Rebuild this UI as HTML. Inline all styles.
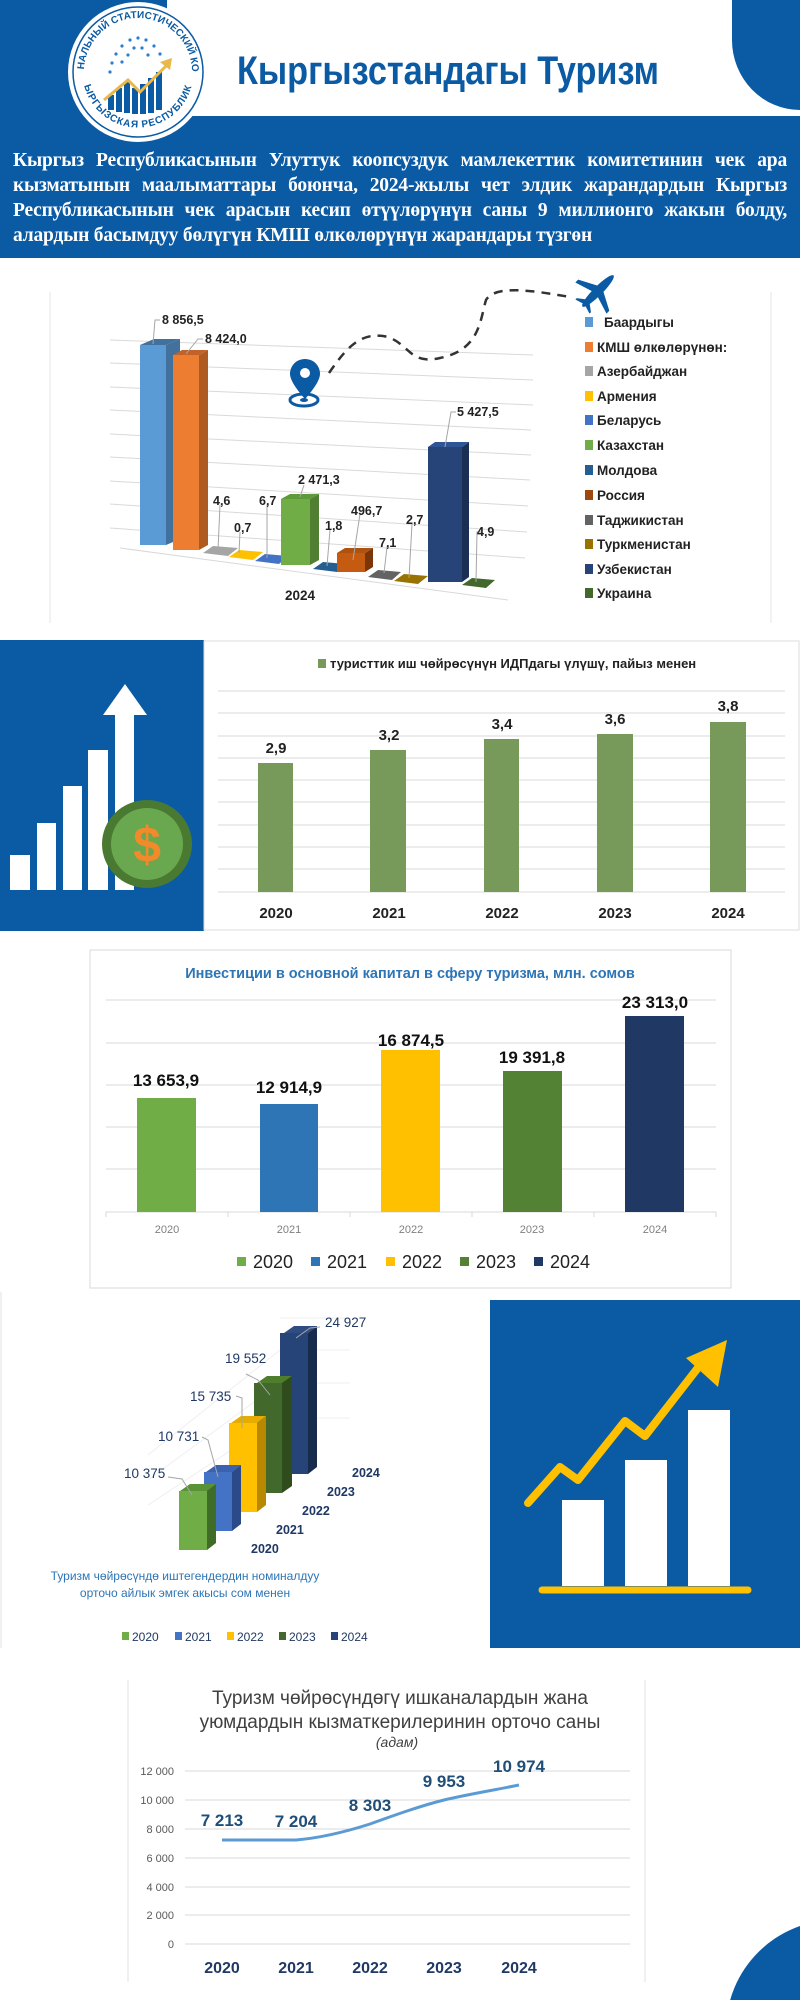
<!DOCTYPE html>
<html><head><meta charset="utf-8"><style>
html,body{margin:0;padding:0;background:#fff;width:800px;height:2000px;overflow:hidden;}
body{position:relative;font-family:"Liberation Sans",sans-serif;}
svg{position:absolute;left:0;top:0;display:block;}
#para{position:absolute;left:13px;top:148px;width:774px;color:#fff;font-family:"Liberation Serif",serif;font-weight:bold;font-size:19.5px;line-height:25px;text-align:justify;text-align-last:left;letter-spacing:-0.2px;}
</style></head><body>
<svg width="800" height="2000" viewBox="0 0 800 2000" font-family="Liberation Sans, sans-serif">
<defs>
<path id="arcTop" d="M 84 72 A 54 54 0 0 1 192 72"/>
<path id="arcBot" d="M 90 82 A 49 49 0 0 0 186 82"/>
<clipPath id="pg"><rect x="0" y="0" width="800" height="2000"/></clipPath>
</defs>
<!-- header -->
<rect x="0" y="0" width="167" height="116" fill="#0a5aa4"/>
<path d="M732 0 H800 V110 A68 70 0 0 1 732 40 Z" fill="#0a5aa4"/>
<rect x="0" y="116" width="800" height="142" fill="#0a5aa4"/>
<circle cx="138" cy="72" r="70" fill="#fff"/>
<circle cx="138" cy="72" r="65" fill="none" stroke="#0a5aa4" stroke-width="1.5"/>
<text font-size="10" font-weight="bold" fill="#0a5aa4"><textPath href="#arcTop" startOffset="50%" text-anchor="middle">НАЦИОНАЛЬНЫЙ СТАТИСТИЧЕСКИЙ КОМИТЕТ</textPath></text>
<text font-size="10" font-weight="bold" fill="#0a5aa4"><textPath href="#arcBot" startOffset="50%" text-anchor="middle" dominant-baseline="hanging">КЫРГЫЗСКАЯ РЕСПУБЛИКА</textPath></text>
<g fill="#2a7fd0">
<circle cx="130" cy="40" r="1.6"/><circle cx="138" cy="38" r="1.6"/><circle cx="146" cy="40" r="1.6"/><circle cx="122" cy="46" r="1.6"/><circle cx="154" cy="46" r="1.6"/><circle cx="116" cy="54" r="1.6"/><circle cx="160" cy="54" r="1.6"/><circle cx="112" cy="63" r="1.6"/><circle cx="164" cy="63" r="1.6"/><circle cx="134" cy="48" r="1.6"/><circle cx="142" cy="48" r="1.6"/><circle cx="128" cy="55" r="1.6"/><circle cx="148" cy="55" r="1.6"/><circle cx="110" cy="72" r="1.6"/><circle cx="122" cy="62" r="1.6"/>
</g>
<g fill="#0a5aa4"><rect x="108" y="95" width="6" height="15"/><rect x="116" y="88" width="6" height="24"/><rect x="124" y="82" width="6" height="31"/><rect x="132" y="88" width="6" height="26"/><rect x="140" y="84" width="6" height="30"/><rect x="148" y="78" width="6" height="35"/><rect x="156" y="72" width="6" height="38"/></g>
<polyline points="104,100 128,80 140,92 168,64" fill="none" stroke="#e8b84a" stroke-width="3"/>
<polygon points="172,58 160,62 170,70" fill="#e8b84a"/>
<text x="448" y="84" font-size="40" font-weight="bold" fill="#0a5aa4" text-anchor="middle" textLength="422" lengthAdjust="spacingAndGlyphs">Кыргызстандагы Туризм</text>

<!-- chart 1 -->
<line x1="50" y1="292" x2="50" y2="623" stroke="#e6e6e6"/>
<line x1="771" y1="292" x2="771" y2="623" stroke="#e6e6e6"/>
<g stroke="#d9d9d9" stroke-width="1">
<line x1="110" y1="340" x2="533" y2="355"/><line x1="110" y1="363" x2="533" y2="380"/><line x1="110" y1="387" x2="533" y2="405"/><line x1="110" y1="410" x2="531" y2="430"/><line x1="110" y1="434" x2="531" y2="455"/><line x1="110" y1="457" x2="530" y2="480"/><line x1="110" y1="481" x2="528" y2="506"/><line x1="110" y1="504" x2="527" y2="532"/><line x1="110" y1="528" x2="525" y2="558"/><line x1="120" y1="548" x2="508" y2="600"/>
</g>
<g>
<polygon points="166,345 180,339 180,539 166,545" fill="#41719c"/><polygon points="140,345 154,339 180,339 166,345" fill="#41719c"/><rect x="140" y="345" width="26" height="200" fill="#5b9bd5"/>
<polygon points="199,355 208,350 208,545 199,550" fill="#ae5a21"/><polygon points="173,355 182,350 208,350 199,355" fill="#c0622a"/><rect x="173" y="355" width="26" height="195" fill="#ed7d31"/>
<polygon points="203,553 213,546 238,548 228,556" fill="#a5a5a5"/>
<polygon points="229,557 239,550 263,552 253,560" fill="#ffc000"/>
<polygon points="255,561 265,554 288,556 279,564" fill="#4472c4"/>
<polygon points="310,499 319,494 319,560 310,565" fill="#507e32"/><polygon points="281,499 290,494 319,494 310,499" fill="#5d9a39"/><rect x="281" y="499" width="29" height="66" fill="#70ad47"/>
<polygon points="313,569 323,562 346,564 337,572" fill="#255e91"/>
<polygon points="365,553 373,548 373,567 365,572" fill="#7a3509"/><polygon points="337,553 345,548 373,548 365,553" fill="#b0520f"/><rect x="337" y="553" width="28" height="19" fill="#c55a11"/>
<polygon points="368,577 378,570 401,572 392,580" fill="#636363"/>
<polygon points="394,581 404,574 428,576 418,584" fill="#997300"/>
<polygon points="462,447 469,442 469,577 462,582" fill="#1a2f53"/><polygon points="428,447 435,442 469,442 462,447" fill="#2f5597"/><rect x="428" y="447" width="34" height="135" fill="#264478"/>
<polygon points="462,585 472,578 495,580 486,588" fill="#43682b"/>
</g>
<g stroke="#a6a6a6" stroke-width="1" fill="none">
<polyline points="153,344 155,320 160,320"/><polyline points="186,354 198,339 203,339"/><polyline points="218,550 220,505"/><polyline points="239,553 240,532"/><polyline points="267,558 267,505"/><polyline points="300,497 304,485"/><polyline points="327,566 330,530"/><polyline points="353,560 360,514"/><polyline points="384,573 387,547"/><polyline points="409,578 412,524"/><polyline points="445,447 451,412 456,412"/><polyline points="476,582 477,532 481,532"/>
</g>
<g font-size="12.5" fill="#222" font-weight="bold">
<text x="162" y="324">8 856,5</text><text x="205" y="343">8 424,0</text>
<text x="213" y="505">4,6</text><text x="234" y="532">0,7</text><text x="259" y="505">6,7</text>
<text x="298" y="484">2 471,3</text><text x="325" y="530">1,8</text><text x="351" y="515">496,7</text>
<text x="379" y="547">7,1</text><text x="406" y="524">2,7</text><text x="457" y="416">5 427,5</text><text x="477" y="536">4,9</text>
<text x="285" y="600" font-size="13.5">2024</text>
</g>
<g font-size="13.5" font-weight="bold" fill="#222">
<rect x="585" y="317" width="8" height="10" fill="#5b9bd5"/><text x="604" y="327">Баардыгы</text>
<rect x="585" y="342" width="8" height="10" fill="#ed7d31"/><text x="597" y="352">КМШ өлкөлөрүнөн:</text>
<rect x="585" y="366" width="8" height="10" fill="#a5a5a5"/><text x="597" y="376">Азербайджан</text>
<rect x="585" y="391" width="8" height="10" fill="#ffc000"/><text x="597" y="401">Армения</text>
<rect x="585" y="415" width="8" height="10" fill="#4472c4"/><text x="597" y="425">Беларусь</text>
<rect x="585" y="440" width="8" height="10" fill="#70ad47"/><text x="597" y="450">Казахстан</text>
<rect x="585" y="465" width="8" height="10" fill="#255e91"/><text x="597" y="475">Молдова</text>
<rect x="585" y="490" width="8" height="10" fill="#9e480e"/><text x="597" y="500">Россия</text>
<rect x="585" y="515" width="8" height="10" fill="#636363"/><text x="597" y="525">Таджикистан</text>
<rect x="585" y="539" width="8" height="10" fill="#997300"/><text x="597" y="549">Туркменистан</text>
<rect x="585" y="564" width="8" height="10" fill="#264478"/><text x="597" y="574">Узбекистан</text>
<rect x="585" y="588" width="8" height="10" fill="#43682b"/><text x="597" y="598">Украина</text>
</g>
<path d="M305 359 c-9 0 -15 7 -15 15 c0 9 15 25 15 25 c0 0 15 -16 15 -25 c0 -8 -6 -15 -15 -15z" fill="#0a5aa4"/>
<circle cx="305" cy="373" r="5" fill="#fff"/>
<ellipse cx="304" cy="400" rx="14" ry="6" fill="none" stroke="#0a5aa4" stroke-width="3"/>
<ellipse cx="304" cy="400" rx="4" ry="2" fill="#0a5aa4"/>
<path d="M329 373 C345 350 360 330 388 337 C410 345 410 365 440 358 C480 350 480 320 486 300 C495 285 530 290 570 297" fill="none" stroke="#333" stroke-width="2.5" stroke-dasharray="9 7"/>
<g transform="translate(598,291) rotate(45)" fill="#0a5aa4">
<ellipse cx="0" cy="0" rx="4.5" ry="22"/>
<polygon points="-3,-4 -22,6 -22,10 -3,4 3,4 22,10 22,6 3,-4"/>
<polygon points="-2,14 -10,20 -10,22 0,19 10,22 10,20 2,14"/>
</g>

<!-- section 3 -->
<rect x="0" y="640" width="204" height="291" fill="#0a5aa4"/>
<rect x="204" y="641" width="595" height="289" fill="none" stroke="#dcdcdc"/>
<g fill="#fff">
<rect x="10" y="855" width="20" height="35"/><rect x="37" y="823" width="19" height="67"/><rect x="63" y="786" width="19" height="104"/><rect x="88" y="750" width="20" height="140"/><rect x="115" y="714" width="19" height="176"/>
<polygon points="103,715 125,684 147,715"/>
</g>
<ellipse cx="147" cy="844" rx="45" ry="44" fill="#4a7a32"/>
<ellipse cx="147" cy="844" rx="36" ry="36" fill="#6aa84f"/>
<text x="147" y="862" font-size="50" fill="#f08a2a" text-anchor="middle" font-weight="bold">$</text>
<g stroke="#d9d9d9"><line x1="218" y1="691" x2="785" y2="691"/><line x1="218" y1="713" x2="785" y2="713"/><line x1="218" y1="736" x2="785" y2="736"/><line x1="218" y1="758" x2="785" y2="758"/><line x1="218" y1="780" x2="785" y2="780"/><line x1="218" y1="802" x2="785" y2="802"/><line x1="218" y1="825" x2="785" y2="825"/><line x1="218" y1="847" x2="785" y2="847"/><line x1="218" y1="869" x2="785" y2="869"/><line x1="218" y1="892" x2="785" y2="892"/></g>
<g fill="#77995a"><rect x="258" y="763" width="35" height="129"/><rect x="370" y="750" width="36" height="142"/><rect x="484" y="739" width="35" height="153"/><rect x="597" y="734" width="36" height="158"/><rect x="710" y="722" width="36" height="170"/></g>
<rect x="318" y="659" width="8" height="9" fill="#77995a"/>
<text x="330" y="668" font-size="13" font-weight="bold" fill="#222">туристтик иш чөйрөсүнүн ИДПдагы  үлүшү, пайыз менен</text>
<g font-size="15" font-weight="bold" fill="#222" text-anchor="middle">
<text x="276" y="753">2,9</text><text x="389" y="740">3,2</text><text x="502" y="729">3,4</text><text x="615" y="724">3,6</text><text x="728" y="711">3,8</text>
<text x="276" y="918">2020</text><text x="389" y="918">2021</text><text x="502" y="918">2022</text><text x="615" y="918">2023</text><text x="728" y="918">2024</text>
</g>

<!-- section 4 -->
<rect x="90" y="950" width="641" height="338" fill="none" stroke="#d9d9d9"/>
<text x="410" y="978" font-size="14.5" font-weight="bold" fill="#2e75b6" text-anchor="middle">Инвестиции в основной капитал в сферу туризма, млн. сомов</text>
<g stroke="#d9d9d9"><line x1="106" y1="1000" x2="716" y2="1000"/><line x1="106" y1="1043" x2="716" y2="1043"/><line x1="106" y1="1085" x2="716" y2="1085"/><line x1="106" y1="1127" x2="716" y2="1127"/><line x1="106" y1="1169" x2="716" y2="1169"/><line x1="106" y1="1212" x2="716" y2="1212"/>
<line x1="106" y1="1212" x2="106" y2="1217"/><line x1="228" y1="1212" x2="228" y2="1217"/><line x1="350" y1="1212" x2="350" y2="1217"/><line x1="472" y1="1212" x2="472" y2="1217"/><line x1="594" y1="1212" x2="594" y2="1217"/><line x1="716" y1="1212" x2="716" y2="1217"/></g>
<rect x="137" y="1098" width="59" height="114" fill="#70ad47"/>
<rect x="260" y="1104" width="58" height="108" fill="#2e75b6"/>
<rect x="381" y="1050" width="59" height="162" fill="#ffc000"/>
<rect x="503" y="1071" width="59" height="141" fill="#548235"/>
<rect x="625" y="1016" width="59" height="196" fill="#203864"/>
<g font-size="17" fill="#111" text-anchor="middle" font-weight="bold">
<text x="166" y="1086">13 653,9</text><text x="289" y="1093">12 914,9</text><text x="411" y="1046">16 874,5</text><text x="532" y="1063">19 391,8</text><text x="655" y="1008">23 313,0</text>
</g>
<g font-size="11" fill="#7f7f7f" text-anchor="middle">
<text x="167" y="1233">2020</text><text x="289" y="1233">2021</text><text x="411" y="1233">2022</text><text x="532" y="1233">2023</text><text x="655" y="1233">2024</text>
</g>
<g font-size="18" fill="#222">
<rect x="237" y="1257" width="9" height="9" fill="#70ad47"/><text x="253" y="1268">2020</text>
<rect x="311" y="1257" width="9" height="9" fill="#2e75b6"/><text x="327" y="1268">2021</text>
<rect x="386" y="1257" width="9" height="9" fill="#ffc000"/><text x="402" y="1268">2022</text>
<rect x="460" y="1257" width="9" height="9" fill="#548235"/><text x="476" y="1268">2023</text>
<rect x="534" y="1257" width="9" height="9" fill="#203864"/><text x="550" y="1268">2024</text>
</g>

<!-- section 5 left 3D -->
<line x1="1" y1="1292" x2="1" y2="1648" stroke="#e0e0e0"/>
<g stroke="#efefef"><line x1="148" y1="1505" x2="280" y2="1418"/><line x1="148" y1="1480" x2="280" y2="1383"/><line x1="148" y1="1455" x2="280" y2="1350"/><line x1="280" y1="1418" x2="350" y2="1418"/><line x1="280" y1="1383" x2="350" y2="1383"/><line x1="280" y1="1350" x2="350" y2="1350"/><line x1="280" y1="1318" x2="350" y2="1318"/></g>
<g>
<polygon points="284,1333 294,1326 317,1326 308,1333" fill="#2f4d82"/><polygon points="308,1333 317,1326 317,1467 308,1474" fill="#172b4d"/><rect x="280" y="1333" width="28" height="141" fill="#264478"/>
<polygon points="257,1383 267,1376 292,1376 282,1383" fill="#4e7d2c"/><polygon points="282,1383 292,1376 292,1486 282,1493" fill="#2f4d1c"/><rect x="254" y="1383" width="28" height="110" fill="#43682b"/>
<polygon points="231,1423 241,1416 266,1416 257,1423" fill="#e6ad00"/><polygon points="257,1423 266,1416 266,1505 257,1512" fill="#b88900"/><rect x="229" y="1423" width="28" height="89" fill="#ffc000"/>
<polygon points="206,1472 216,1465 241,1465 232,1472" fill="#3a62b0"/><polygon points="232,1472 241,1465 241,1524 232,1531" fill="#2a4a8a"/><rect x="204" y="1472" width="28" height="59" fill="#4472c4"/>
<polygon points="180,1491 190,1484 216,1484 207,1491" fill="#5a9238"/><polygon points="207,1491 216,1484 216,1543 207,1550" fill="#3f6c26"/><rect x="179" y="1491" width="28" height="59" fill="#70ad47"/>
</g>
<g stroke="#a6a6a6" fill="none"><polyline points="296,1338 310,1328 320,1327"/><polyline points="270,1395 258,1380 246,1374"/><polyline points="242,1428 242,1398 236,1396"/><polyline points="218,1477 208,1440 202,1437"/><polyline points="192,1495 182,1479 168,1477"/></g>
<g font-size="13.5" fill="#1f3864">
<text x="325" y="1327">24 927</text><text x="225" y="1363">19 552</text><text x="190" y="1401">15 735</text><text x="158" y="1441">10 731</text><text x="124" y="1478">10 375</text>
<g font-weight="bold" font-size="12.5"><text x="352" y="1477">2024</text><text x="327" y="1496">2023</text><text x="302" y="1515">2022</text><text x="276" y="1534">2021</text><text x="251" y="1553">2020</text></g>
</g>
<g font-size="12" fill="#2e75b6" text-anchor="middle"><text x="185" y="1580">Туризм чөйрөсүндө иштегендердин номиналдуу</text><text x="185" y="1597">орточо айлык эмгек акысы сом менен</text></g>
<g font-size="12" fill="#1f3864">
<rect x="122" y="1632" width="7" height="8" fill="#70ad47"/><text x="132" y="1641">2020</text>
<rect x="175" y="1632" width="7" height="8" fill="#4472c4"/><text x="185" y="1641">2021</text>
<rect x="227" y="1632" width="7" height="8" fill="#ffc000"/><text x="237" y="1641">2022</text>
<rect x="279" y="1632" width="7" height="8" fill="#43682b"/><text x="289" y="1641">2023</text>
<rect x="331" y="1632" width="7" height="8" fill="#264478"/><text x="341" y="1641">2024</text>
</g>
<rect x="490" y="1300" width="310" height="348" fill="#0a5aa4"/>
<g fill="#fff"><rect x="562" y="1500" width="42" height="86"/><rect x="625" y="1460" width="42" height="126"/><rect x="688" y="1410" width="42" height="176"/></g>
<line x1="542" y1="1590" x2="748" y2="1590" stroke="#ffc000" stroke-width="7" stroke-linecap="round"/>
<polyline points="528,1503 560,1467 578,1480 625,1421 645,1436 704,1360" fill="none" stroke="#ffc000" stroke-width="8" stroke-linecap="round" stroke-linejoin="round"/>
<polygon points="727,1340 686,1358 718,1387" fill="#ffc000"/>

<!-- line chart -->
<line x1="128" y1="1680" x2="128" y2="1982" stroke="#e0e0e0"/>
<line x1="645" y1="1680" x2="645" y2="1982" stroke="#e0e0e0"/>
<g font-size="19" fill="#404040" text-anchor="middle"><text x="400" y="1704">Туризм  чөйрөсүндөгү ишканалардын жана</text><text x="400" y="1728">уюмдардын  кызматкерилеринин орточо  саны</text><text x="397" y="1747" font-size="14" font-style="italic">(адам)</text></g>
<g stroke="#d9d9d9"><line x1="185" y1="1771" x2="630" y2="1771"/><line x1="185" y1="1800" x2="630" y2="1800"/><line x1="185" y1="1829" x2="630" y2="1829"/><line x1="185" y1="1858" x2="630" y2="1858"/><line x1="185" y1="1887" x2="630" y2="1887"/><line x1="185" y1="1915" x2="630" y2="1915"/><line x1="185" y1="1944" x2="630" y2="1944"/></g>
<g font-size="11" fill="#595959" text-anchor="end"><text x="174" y="1775">12 000</text><text x="174" y="1804">10 000</text><text x="174" y="1833">8 000</text><text x="174" y="1862">6 000</text><text x="174" y="1891">4 000</text><text x="174" y="1919">2 000</text><text x="174" y="1948">0</text></g>
<path d="M222 1840 L296 1840 C320 1838 345 1832 370 1824 C395 1815 420 1806 444 1800 C470 1794 495 1790 519 1785" fill="none" stroke="#5b9bd5" stroke-width="3"/>
<g font-size="17" font-weight="bold" fill="#1f4e79" text-anchor="middle"><text x="222" y="1826">7 213</text><text x="296" y="1827">7 204</text><text x="370" y="1811">8 303</text><text x="444" y="1787">9 953</text><text x="519" y="1772">10 974</text></g>
<g font-size="16" font-weight="bold" fill="#1f3864" text-anchor="middle"><text x="222" y="1973">2020</text><text x="296" y="1973">2021</text><text x="370" y="1973">2022</text><text x="444" y="1973">2023</text><text x="519" y="1973">2024</text></g>
<g clip-path="url(#pg)"><circle cx="836" cy="2030" r="110" fill="#0a5aa4"/></g>
</svg>
<div id="para">Кыргыз Республикасынын Улуттук коопсуздук мамлекеттик комитетинин чек ара кызматынын маалыматтары боюнча, 2024-жылы чет элдик жарандардын Кыргыз Республикасынын чек арасын кесип өтүүлөрүнүн саны 9 миллионго жакын болду, алардын басымдуу бөлүгүн КМШ өлкөлөрүнүн жарандары түзгөн</div>
</body></html>
